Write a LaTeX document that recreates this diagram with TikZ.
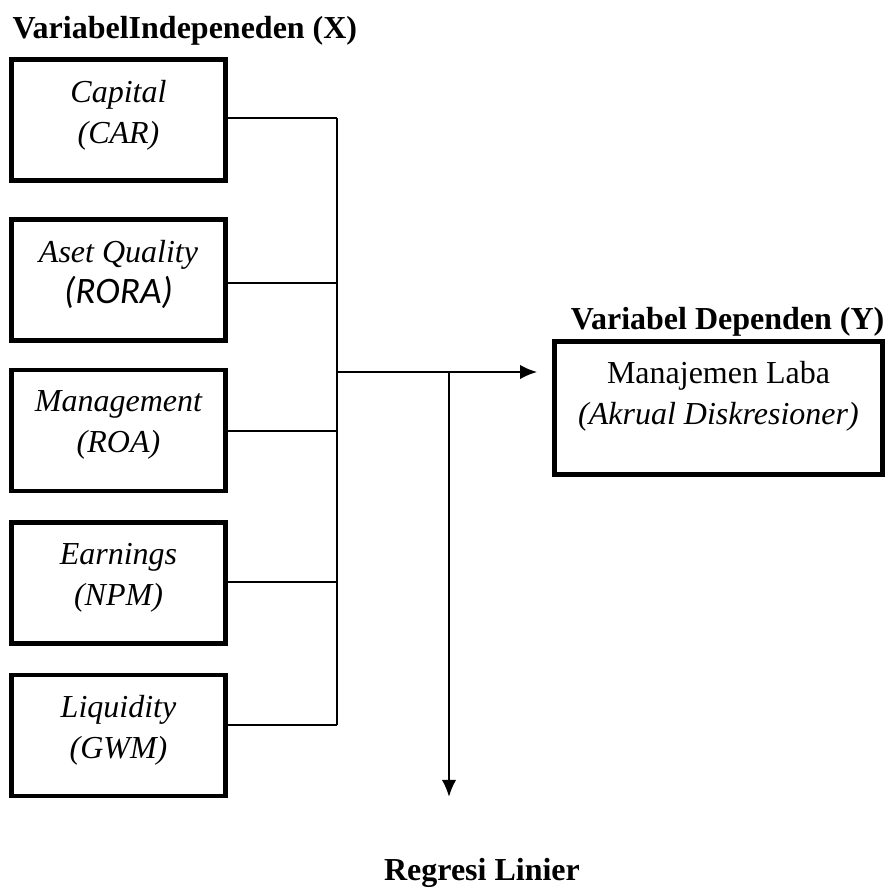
\documentclass[tikz,border=0pt]{standalone}
\usepackage{fontspec}
\setmainfont{Liberation Serif}
\newfontfamily\rorafont{Carlito}
\usepackage{tikz}
\usetikzlibrary{calc,arrows.meta}

\begin{document}
\begin{tikzpicture}[x=0.375pt,y=-0.375pt,
    varbox/.style={draw,line width=1.8pt,align=center,inner sep=0pt,
      font=\fontsize{12}{15.4}\selectfont},
    indbox/.style={varbox,minimum width=80.25pt,minimum height=45.4pt,text depth=6.4pt},
    depbox/.style={varbox,minimum width=123pt,minimum height=49.9pt,text depth=11.6pt},
    heading/.style={inner sep=0pt,font=\fontsize{12}{14}\selectfont\bfseries},
    link/.style={line width=0.6pt},
    mainlink/.style={line width=0.8pt,-{Latex[length=6.4pt,width=5.4pt]}}]
  \useasboundingbox (0,0) rectangle (889,894);

  %% Independent variables with their joints on the bus
  \foreach \i/\y/\c/\name/\code in {1/120/118/Capital/(CAR),
      2/280/283/Aset Quality/{\rorafont\fontsize{14}{15.4}\selectfont(RORA)},
      3/430.5/431/Management/(ROA),
      4/583/582/Earnings/(NPM),
      5/735.5/725/Liquidity/(GWM)}
  {
    \node[indbox] (X\i) at (118.5,\y) {\itshape \name\\\itshape \code};
    \coordinate (J\i) at (337,\c);
    \draw[link] (X\i.east |- J\i) -- (J\i);
  }
  \node[heading,anchor=base west] (XLAB) at (12,38) {VariabelIndepeneden (X)};

  %% Dependent variable
  \node[depbox] (Y) at (718.5,408) {Manajemen Laba\\\itshape (Akrual Diskresioner)};
  \node[heading,anchor=base east] (YLAB) at ($(Y.north east)+(0,-10)$) {Variabel Dependen (Y)};

  %% Bus and arrows
  \draw[link] (J1) -- (J5);
  \coordinate (M) at (337,372);
  \coordinate (R) at (449,372);
  \coordinate (RL) at (449,797);
  \draw[mainlink,shorten >=5.6pt] (M) -- (Y.west |- M);
  \draw[mainlink] (R) -- (RL);
  \node[heading,anchor=base] (REG) at (482,880) {Regresi Linier};
\end{tikzpicture}
\end{document}
